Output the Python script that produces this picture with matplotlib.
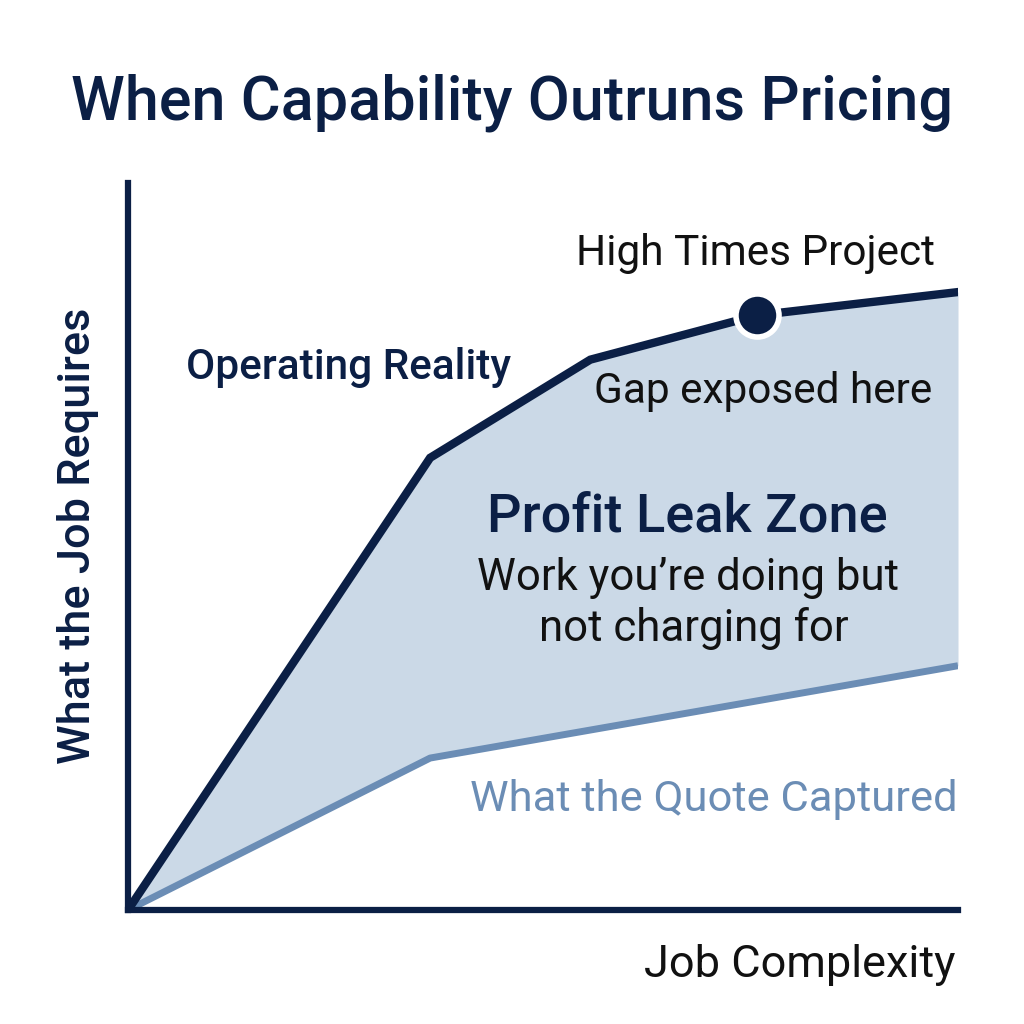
import matplotlib
matplotlib.use("Agg")
import matplotlib.pyplot as plt
import numpy as np

plt.rcParams['font.family'] = ['Roboto', 'DejaVu Sans']

# conceptual data (0..10 scale on both axes)
complexity = [0, 3.64, 5.57, 7.58, 10]
job_requires = [0, 6.22, 7.57, 8.18, 8.5]
quote_x = [0, 3.64, 10]
quote_captured = [0, 2.09, 3.36]
project_x = 7.58
project_y = 8.18

NAVY = '#0b1f45'
QUOTE = '#6b8db5'
FILL = '#cbd9e7'

fig = plt.figure(figsize=(10.24, 10.24), dpi=100)
ax = fig.add_axes([128/1024, 114/1024, 830/1024, 727/1024])

# shaded gap between the two curves
xs = sorted(set(complexity) | set(quote_x))
up = np.interp(xs, complexity, job_requires)
lo = np.interp(xs, quote_x, quote_captured)
ax.fill_between(xs, lo, up, color=FILL, lw=0, zorder=1)

ax.plot(quote_x, quote_captured, color=QUOTE, lw=5, solid_capstyle='butt', zorder=2)
ax.plot(complexity, job_requires, color=NAVY, lw=6, solid_joinstyle='miter', zorder=3)
ax.plot([project_x], [project_y], 'o', ms=31, mfc=NAVY, mec='white', mew=4, zorder=4)

ax.set_xlim(0, 10)
ax.set_ylim(0, 10)
ax.set_xticks([])
ax.set_yticks([])
for s in ['top', 'right']:
    ax.spines[s].set_visible(False)
for s in ['left', 'bottom']:
    ax.spines[s].set_linewidth(4.5)
    ax.spines[s].set_color(NAVY)
    ax.spines[s].set_capstyle('projecting')

# texts
fig.text(512/1024, 1 - 103/1024, 'When Capability Outruns Pricing', ha='center', va='center',
         fontsize=44, fontweight='medium', color=NAVY)
fig.text(756/1024, 1 - 253/1024, 'High Times Project', ha='center', va='center',
         fontsize=30.5, color='#111111')
fig.text(348/1024, 1 - 368/1024, 'Operating Reality', ha='center', va='center',
         fontsize=30.5, fontweight='medium', color=NAVY)
fig.text(763/1024, 1 - 392/1024, 'Gap exposed here', ha='center', va='center',
         fontsize=30.5, color='#111111')
fig.text(687/1024, 1 - 517/1024, 'Profit Leak Zone', ha='center', va='center',
         fontsize=39, fontweight='medium', color=NAVY)
fig.text(688/1024, 1 - 578/1024, 'Work you\u2019re doing but', ha='center', va='center',
         fontsize=31.5, color='#111111')
fig.text(694/1024, 1 - 628/1024, 'not charging for', ha='center', va='center',
         fontsize=31.5, color='#111111')
fig.text(714/1024, 1 - 800/1024, 'What the Quote Captured', ha='center', va='center',
         fontsize=31.3, color=QUOTE)
fig.text(800/1024, 1 - 965/1024, 'Job Complexity', ha='center', va='center',
         fontsize=32.5, color='#111111')
fig.text(78/1024, 1 - 536/1024, 'What the Job Requires', ha='center', va='center',
         fontsize=32.5, fontweight='medium', color=NAVY, rotation=90)

fig.savefig('out.png', dpi=100, facecolor='white')
